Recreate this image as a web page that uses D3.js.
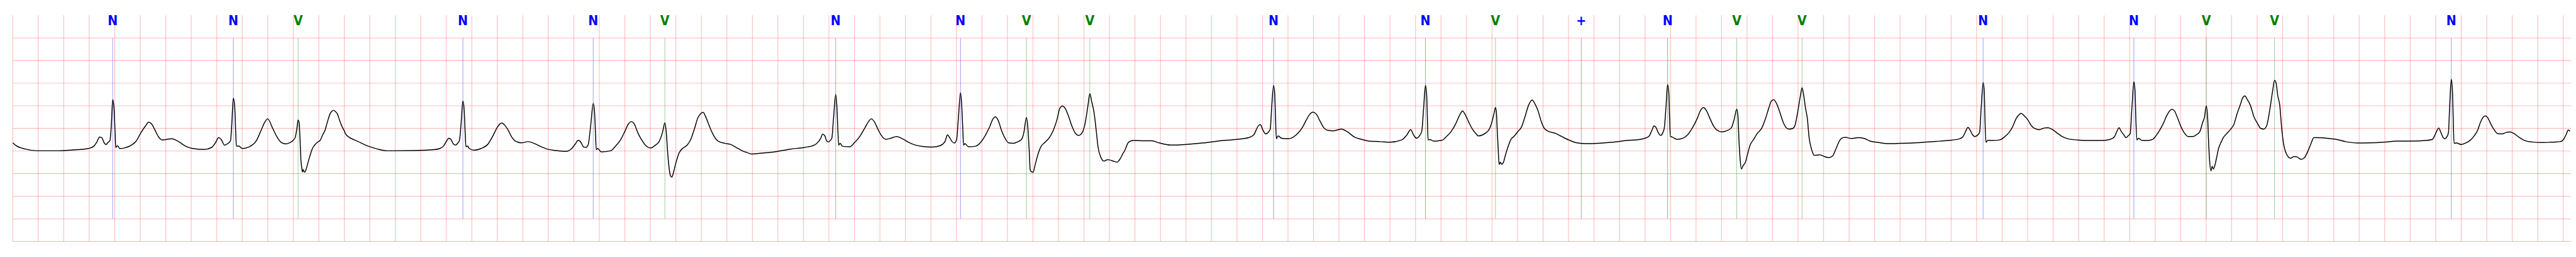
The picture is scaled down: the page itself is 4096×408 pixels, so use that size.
<!DOCTYPE html>
<html><head><meta charset="utf-8">
<script src="https://cdn.jsdelivr.net/npm/d3@7"></script>
<style>html,body{margin:0;padding:0;background:#fff;overflow:hidden}</style>
</head><body>
<script>
// ECG signal: time (s) and amplitude (mV)
const times = [
0.000,0.026,0.100,0.193,0.359,0.507,0.599,0.636,0.658,0.682,0.700,0.719,0.732,0.747,0.762,0.773,0.784,0.795,0.802,0.808,0.821,0.839,0.876,0.931,0.968,1.006,1.043,1.065,1.089,1.116,1.144,1.172,1.246,1.301,1.356,1.412,1.504,1.560,1.587,1.615,1.634,1.661,1.689,1.708,1.717,1.730,1.741,1.748,1.754,1.772,1.800,1.855,1.911,1.948,1.976,
1.999,2.037,2.073,2.109,2.144,2.180,2.198,2.216,2.229,2.238,2.247,2.253,2.260,2.268,2.271,2.278,2.285,2.292,2.301,2.314,2.332,2.350,2.368,2.390,2.413,2.431,2.449,2.462,2.475,2.489,2.502,2.516,2.529,2.547,2.565,2.583,2.600,2.609,2.636,2.681,2.726,2.770,2.815,
2.860,2.934,3.137,3.303,3.349,3.377,3.399,3.420,3.436,3.455,3.473,3.492,3.503,3.516,3.530,3.540,3.547,3.554,3.566,3.580,3.617,3.673,3.728,3.765,3.802,3.834,3.857,3.885,3.913,3.941,3.987,4.042,4.088,4.135,4.190,4.264,4.338,4.384,4.412,4.434,4.452,4.476,4.495,4.513,4.532,4.552,4.561,4.569,4.576,4.587,4.615,4.689,4.726,4.763,4.800,4.828,4.850,4.874,4.901,4.929,4.957,5.003,5.040,5.068,5.095,5.114,5.125,5.136,5.147,5.158,5.169,5.180,5.197,5.225,5.252,5.289,5.317,5.345,5.373,5.395,5.413,5.437,5.465,5.493,5.530,5.585,5.631,5.687,
5.730,5.758,5.795,5.878,5.971,6.100,6.211,6.285,6.318,6.336,6.351,6.368,6.381,6.396,6.410,6.423,6.436,6.453,6.462,6.469,6.477,6.488,6.506,6.562,6.599,6.645,6.682,6.710,6.732,6.756,6.784,6.811,6.848,6.885,6.931,6.977,7.024,7.079,7.135,7.208,7.273,7.310,7.330,7.347,7.366,7.384,7.402,7.415,7.432,7.441,7.449,7.456,7.467,7.495,7.550,7.587,7.624,7.661,7.685,7.704,7.726,7.753,7.781,7.809,7.846,7.883,7.911,7.929,7.949,7.959,7.970,7.979,7.988,8.001,8.018,8.040,8.062,8.095,8.132,8.160,8.188,8.210,8.232,8.254,8.280,8.308,8.335,8.358,8.387,8.409,8.432,8.446,8.461,8.480,8.496,8.511,8.530,8.557,8.585,
8.601,8.629,8.660,8.684,8.703,8.721,8.734,8.749,8.786,8.878,8.933,8.989,9.081,9.192,9.340,9.469,9.599,9.691,9.732,9.765,9.783,9.802,9.824,9.848,9.861,9.872,9.887,9.896,9.902,9.909,9.922,9.950,10.005,10.042,10.079,10.116,10.144,10.171,10.195,10.223,10.251,10.282,10.310,10.356,10.421,10.467,10.522,10.578,10.633,10.726,10.799,10.892,10.933,10.962,10.984,11.008,11.030,11.049,11.064,11.078,11.088,11.093,11.099,11.114,11.141,11.206,11.243,11.280,11.317,11.345,11.369,11.391,11.418,11.446,11.474,11.492,
11.527,11.555,11.579,11.601,11.616,11.627,11.634,11.641,11.649,11.656,11.665,11.675,11.690,11.702,11.721,11.749,11.776,11.804,11.832,11.859,11.887,11.915,11.937,11.961,11.985,12.011,12.044,12.100,12.146,12.201,12.266,12.340,12.432,12.543,12.654,12.765,12.829,12.854,12.870,12.885,12.903,12.922,12.940,12.951,12.964,12.977,12.987,12.992,12.999,13.014,13.051,13.097,13.134,13.171,13.208,13.236,13.258,13.282,13.310,13.338,13.365,13.402,13.439,13.476,13.500,13.519,13.528,13.537,13.546,13.556,13.569,13.587,13.606,13.624,13.652,13.679,13.716,13.744,13.772,13.790,13.809,13.833,13.859,13.883,13.907,13.929,13.957,13.975,13.994,14.018,14.031,14.045,14.058,14.073,14.086,14.104,14.128,14.169,14.206,14.243,14.271,14.298,14.326,
14.342,14.370,14.416,14.471,14.518,14.564,14.619,14.712,14.804,14.896,14.989,15.081,15.174,15.266,15.294,15.312,15.332,15.349,15.368,15.386,15.405,15.423,15.436,15.451,15.460,15.465,15.473,15.488,15.525,15.580,15.617,15.654,15.682,15.709,15.732,15.750,15.774,15.802,15.829,15.857,15.894,15.931,15.959,15.996,16.033,16.070,16.116,16.190,16.282,16.375,16.448,16.482,16.500,16.517,16.531,16.554,16.572,16.587,16.604,16.618,16.633,16.642,16.648,16.657,16.670,16.698,16.744,16.781,16.809,16.836,16.864,16.892,16.914,16.932,16.951,16.975,17.003,17.030,17.058,17.095,17.123,17.151,17.173,
17.186,17.201,17.212,17.219,17.226,17.238,17.247,17.256,17.269,17.282,17.297,17.315,17.334,17.361,17.389,17.417,17.444,17.467,17.485,17.504,17.522,17.546,17.574,17.602,17.629,17.651,17.675,17.699,17.722,17.736,17.749,17.762,17.777,17.792,17.807,17.823,17.842,17.860,17.888,17.916,17.943,17.971,17.999,18.021,18.045,18.073,18.147,18.220,18.294,18.387,18.479,18.590,18.701,18.812,18.922,18.974,18.993,19.009,19.024,19.039,19.056,19.070,19.089,19.100,19.109,19.122,19.131,19.137,19.144,19.163,19.200,19.237,19.274,19.301,19.329,19.351,19.375,19.390,19.408,19.430,19.458,19.486,19.523,19.550,19.582,19.615,19.652,19.698,19.754,19.828,19.902,19.976,20.003,20.022,20.040,20.053
];
const values = [
0.18,0.12,0.043,0.005,0.005,0.03,0.06,0.106,0.19,0.31,0.288,0.17,0.144,0.19,0.23,0.56,1.136,0.914,0.46,0.076,0.119,0.056,0.068,0.13,0.22,0.41,0.56,0.636,0.598,0.46,0.31,0.245,0.27,0.207,0.106,0.056,0.035,0.08,0.17,0.295,0.258,0.13,0.17,0.23,0.56,1.17,0.965,0.46,0.106,0.111,0.056,0.093,0.23,0.46,0.636,
0.712,0.51,0.308,0.182,0.157,0.195,0.233,0.308,0.510,0.687,0.611,0.258,-0.197,-0.40,-0.462,-0.41,-0.462,-0.462,-0.40,-0.27,-0.096,0.056,0.132,0.195,0.245,0.359,0.46,0.586,0.712,0.826,0.876,0.90,0.876,0.813,0.662,0.536,0.447,0.384,0.308,0.245,0.187,0.127,0.081,
0.043,0.005,0.01,0.03,0.056,0.106,0.207,0.283,0.258,0.157,0.131,0.182,0.232,0.611,1.104,0.914,0.46,0.093,0.111,0.056,0.018,0.056,0.157,0.333,0.535,0.619,0.573,0.46,0.308,0.22,0.18,0.207,0.169,0.106,0.043,0.01,-0.008,0.056,0.157,0.237,0.207,0.093,0.08,0.144,0.56,1.053,0.914,0.46,0.03,0.056,-0.02,0.005,0.106,0.232,0.434,0.598,0.649,0.598,0.409,0.258,0.144,0.068,0.131,0.207,0.409,0.624,0.409,-0.045,-0.374,-0.55,-0.576,-0.487,-0.298,-0.045,0.056,0.131,0.258,0.485,0.737,0.826,0.856,0.737,0.535,0.359,0.22,0.169,0.144,0.056,
-0.008,-0.033,-0.066,-0.045,-0.02,0.043,0.08,0.131,0.207,0.283,0.371,0.338,0.232,0.2,0.232,0.283,0.712,1.247,1.015,0.56,0.131,0.169,0.106,0.093,0.18,0.333,0.51,0.649,0.712,0.649,0.485,0.346,0.258,0.283,0.321,0.27,0.194,0.131,0.101,0.086,0.119,0.207,0.359,0.295,0.207,0.177,0.258,0.712,1.288,1.04,0.56,0.131,0.162,0.093,0.106,0.18,0.333,0.535,0.7,0.755,0.687,0.46,0.283,0.18,0.169,0.207,0.258,0.409,0.742,0.56,0.056,-0.424,-0.455,-0.47,-0.298,-0.071,0.093,0.194,0.308,0.46,0.687,0.939,0.997,0.939,0.763,0.535,0.384,0.346,0.409,0.611,1.015,1.268,1.091,0.838,0.46,0.08,-0.121,-0.222,-0.192,
-0.197,-0.222,-0.247,-0.172,-0.071,0.018,0.106,0.194,0.232,0.227,0.227,0.18,0.131,0.144,0.18,0.227,0.258,0.295,0.359,0.548,0.586,0.472,0.379,0.422,0.485,0.965,1.449,1.268,0.763,0.27,0.333,0.283,0.27,0.308,0.396,0.535,0.687,0.813,0.859,0.813,0.662,0.51,0.46,0.447,0.485,0.422,0.308,0.258,0.22,0.207,0.194,0.245,0.359,0.472,0.359,0.283,0.333,0.434,0.965,1.449,1.217,0.712,0.245,0.253,0.22,0.237,0.321,0.434,0.611,0.788,0.884,0.8,0.636,0.485,0.384,0.333,
0.359,0.409,0.485,0.662,0.838,0.96,0.864,0.46,0.005,-0.298,-0.247,-0.293,-0.247,-0.121,0.056,0.258,0.333,0.434,0.535,0.763,1.015,1.129,1.04,0.889,0.662,0.497,0.434,0.389,0.321,0.245,0.18,0.162,0.169,0.194,0.232,0.258,0.321,0.46,0.553,0.523,0.409,0.346,0.409,0.51,0.965,1.47,1.268,0.763,0.321,0.308,0.258,0.283,0.359,0.51,0.712,0.902,0.96,0.889,0.712,0.548,0.46,0.422,0.447,0.51,0.712,0.927,0.788,0.207,-0.197,-0.399,-0.323,-0.247,-0.045,0.131,0.258,0.384,0.51,0.712,0.965,1.104,1.136,1.04,0.838,0.636,0.515,0.485,0.497,0.561,0.813,1.217,1.399,1.217,0.952,0.712,0.308,0.056,-0.096,-0.083,-0.121,-0.146,-0.109,0.056,0.232,
0.283,0.303,0.278,0.295,0.278,0.22,0.194,0.162,0.169,0.177,0.194,0.212,0.232,0.27,0.321,0.422,0.523,0.46,0.359,0.321,0.346,0.409,0.965,1.515,1.318,0.763,0.194,0.237,0.232,0.245,0.308,0.409,0.535,0.712,0.8,0.833,0.775,0.687,0.561,0.497,0.472,0.51,0.515,0.472,0.396,0.321,0.27,0.245,0.232,0.232,0.258,0.321,0.434,0.515,0.447,0.359,0.295,0.333,0.384,0.965,1.533,1.343,0.763,0.245,0.283,0.232,0.232,0.258,0.346,0.46,0.611,0.788,0.889,0.922,0.889,0.737,0.535,0.396,0.321,0.321,0.359,0.434,0.636,
0.737,0.995,0.712,0.207,-0.172,-0.437,-0.336,-0.399,-0.31,-0.146,0.056,0.18,0.295,0.384,0.472,0.586,0.838,1.015,1.167,1.217,1.141,1.015,0.763,0.611,0.497,0.485,0.561,0.914,1.343,1.563,1.495,1.217,1.015,0.51,0.157,-0.02,-0.121,-0.159,-0.121,-0.134,-0.184,-0.146,0.005,0.157,0.295,0.295,0.283,0.258,0.207,0.177,0.18,0.194,0.22,0.22,0.232,0.258,0.346,0.447,0.51,0.422,0.308,0.27,0.321,0.409,0.965,1.583,1.343,0.763,0.169,0.177,0.144,0.18,0.245,0.333,0.46,0.636,0.755,0.775,0.737,0.611,0.472,0.384,0.379,0.409,0.422,0.384,0.308,0.232,0.2,0.187,0.194,0.207,0.258,0.359,0.465,0.434
];
// Beat annotations
const annTimes = [0.784,1.730,2.238,3.530,4.552,5.114,6.453,7.432,7.949,8.446,9.887,11.078,11.627,12.300,12.977,13.519,14.031,15.451,16.633,17.201,17.736,19.122];
const annSymbols = ["N","N","V","N","N","V","N","N","V","V","N","N","V","+","N","V","V","N","N","V","V","N"];
const symbolColors = {"N":"#0000ff","V":"#008000","+":"#0000ff"};

const W = 7523, H = 750;
const svg = d3.select("body").append("svg")
  .attr("width", 4096).attr("height", 408)
  .attr("viewBox", `0 0 ${W} ${H}`);

const x = d3.scaleLinear().domain([0, 20.062]).range([34, 7512]);
const y = d3.scaleLinear().domain([-2, 3]).range([704.7, 44.7]);

const grid = svg.append("g");
grid.selectAll("line.v").data(d3.range(0, 101).map(i => i * 0.2)).join("line")
  .attr("x1", d => x(d)).attr("x2", d => x(d))
  .attr("y1", y(3)).attr("y2", y(-2))
  .attr("stroke", "red").attr("stroke-opacity", 0.27).attr("stroke-width", 2);
grid.selectAll("line.h").data(d3.range(0, 10).map(i => -2 + i * 0.5)).join("line")
  .attr("x1", x(0)).attr("x2", 7512)
  .attr("y1", d => y(d)).attr("y2", d => y(d))
  .attr("stroke", "red").attr("stroke-opacity", 0.27).attr("stroke-width", 2);

const anns = annTimes.map((t, i) => ({t, s: annSymbols[i]}));
svg.append("g").selectAll("line").data(anns).join("line")
  .attr("x1", d => x(d.t)).attr("x2", d => x(d.t))
  .attr("y1", y(2.5)).attr("y2", y(-1.5))
  .attr("stroke", d => symbolColors[d.s]).attr("stroke-opacity", 0.55).attr("stroke-width", 1.3);

const pts = times.map((t, i) => [t, values[i]]);
svg.append("path").datum(pts)
  .attr("fill", "none").attr("stroke", "#000").attr("stroke-width", 2.7)
  .attr("stroke-linejoin", "round")
  .attr("d", d3.line().x(d => x(d[0])).y(d => y(d[1])).curve(d3.curveMonotoneX));

svg.append("g").selectAll("text").data(anns).join("text")
  .attr("x", d => x(d.t)).attr("y", 73)
  .attr("text-anchor", "middle")
  .attr("font-family", "DejaVu Sans Condensed, DejaVu Sans")
  .attr("font-weight", "bold").attr("font-size", 39)
  .attr("fill", d => symbolColors[d.s])
  .text(d => d.s);
</script>
</body></html>
